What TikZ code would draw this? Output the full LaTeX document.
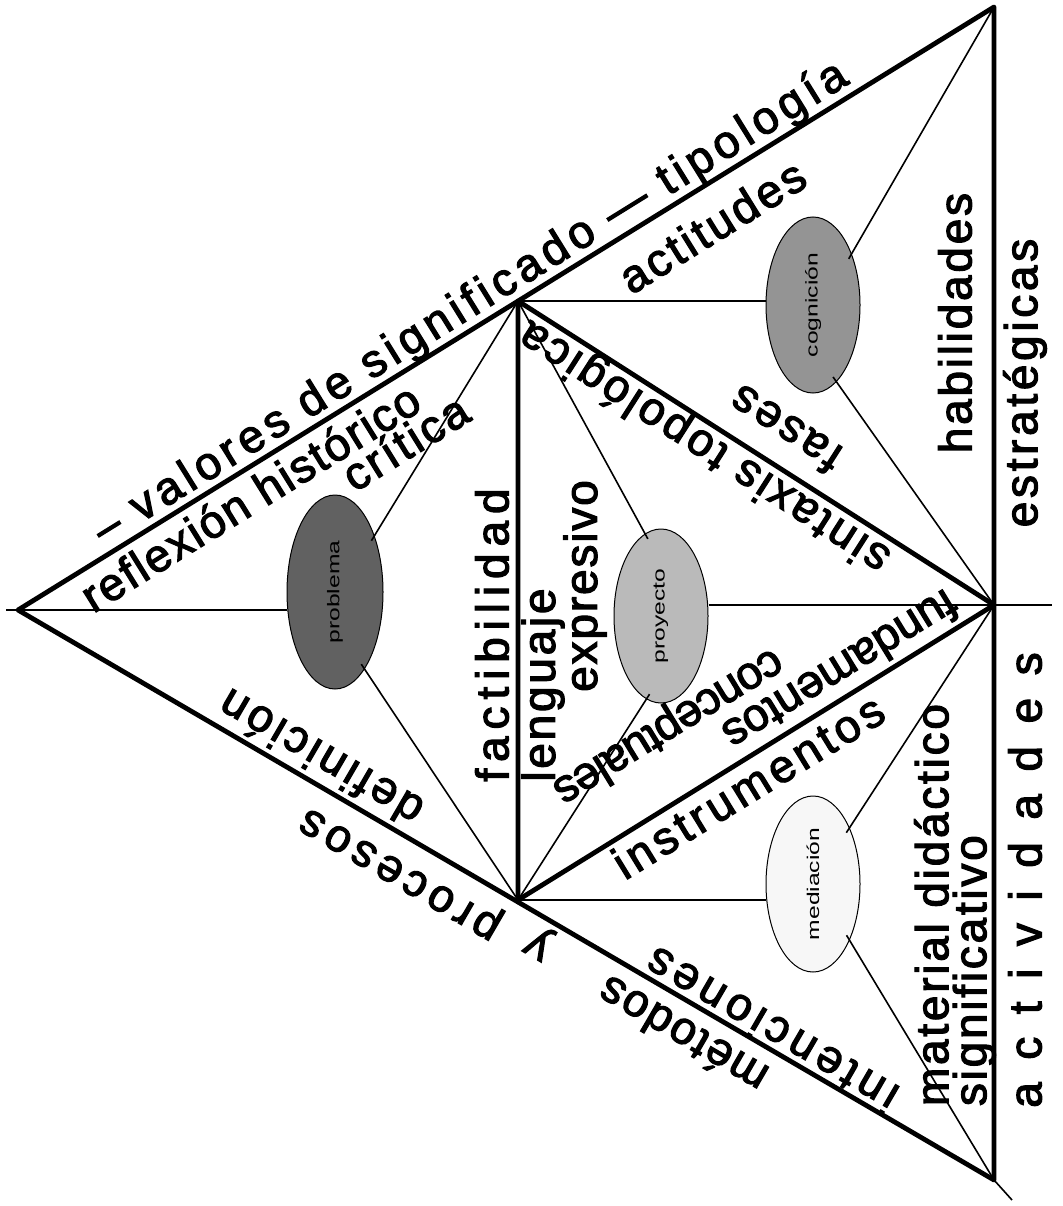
\documentclass[tikz,border=0pt]{standalone}
\usepackage{fontspec}
\usepackage{graphicx}
\usetikzlibrary{shapes.geometric}
\newfontfamily\lblfont[FakeBold=2.5]{Liberation Sans}
\newfontfamily\ovalfont[FakeStretch=1.45]{Liberation Sans}

\begin{document}
\begin{tikzpicture}[
    x=1pt, y=-1pt,
    edge/.style={line width=4.8pt, line cap=round, line join=round},
    ray/.style={line width=1.6pt},
    oval/.style={ellipse, draw, line width=1pt, inner sep=0pt, minimum width=94pt, minimum height=176pt, font=\ovalfont\fontsize{17}{17}\selectfont},
    lbl/.style={font=\lblfont\fontsize{46}{38}\selectfont\addfontfeature{LetterSpace=#1}, inner sep=0pt},
    lbl/.default=0
  ]
    \fill[white] (0,0) rectangle (1062,1206);
    \useasboundingbox (0,0) rectangle (1062,1206);

    % corners of the big triangle and of the inner one
    \coordinate (L) at (18,610);
    \coordinate (TR) at (994,7);
    \coordinate (BR) at (994,1180);
    \coordinate (T) at (518,301);
    \coordinate (B) at (518,900);
    \coordinate (R) at (994,605);
    \coordinate (axL) at (6,610);
    \coordinate (axR) at (1052,605);
    \coordinate (tail) at (1012,1200);

    % the four ovals
    \node[oval, fill=black!62, minimum width=96pt, minimum height=194pt] (prob) at (335,592) {\rotatebox{90}{problema}};
    \node[oval, fill=black!42] (cog) at (813,305) {\rotatebox{90}{cognición}};
    \node[oval, fill=black!27, minimum height=174pt] (proy) at (661,616) {\rotatebox{90}{proyecto}};
    \node[oval, fill=black!3] (med) at (813,884) {\rotatebox{90}{mediación}};

    % thin lines from the corners to the ovals
    \draw[ray] (axL) -- (L);
    \draw[ray] (L) -- (L -| prob.west);
    \draw[ray, shorten >=-6pt] (T) -- (prob.55);
    \draw[ray, shorten >=-6pt] (B) -- (prob.291);
    \draw[ray] (T) -- (T -| cog.west);
    \draw[ray, shorten >=-6pt] (TR) -- (cog.53);
    \draw[ray, shorten >=-6pt] (R) -- (cog.287);
    \draw[ray, shorten >=-6pt] (T) -- (proy.101);
    \draw[ray] (R) -- (R -| proy.east);
    \draw[ray, shorten >=-6pt] (B) -- (proy.260);
    \draw[ray] (B) -- (B -| med.west);
    \draw[ray, shorten >=-6pt] (R) -- (med.57);
    \draw[ray, shorten >=-6pt] (BR) -- (med.303);
    \draw[ray] (BR) -- (tail);
    \draw[ray] (R) -- (axR);

    % thick triangles
    \draw[edge] (L) -- (TR) -- (BR) -- cycle;
    \draw[edge] (T) -- (B) -- (R) -- cycle;

    % labels
    \node[lbl=11, rotate=31.8] (valores) at (471,304) {– valores de significado — tipología};
    \node[lbl=4, rotate=31.8] (reflexion) at (250,497) {reflexión histórico};
    \node[lbl=6, rotate=31.8] (critica) at (405,442) {crítica};
    \node[lbl=7, rotate=31.8] (actitudes) at (712,226) {actitudes};
    \node[lbl=6, rotate=90] (habilidades) at (955,323) {habilidades};
    \node[lbl=8, rotate=90] (estrategicas) at (1025,383) {estratégicas};
    \node[lbl=49, rotate=90] (actividades) at (1025,880) {actividades};
    \node[lbl=6, rotate=90, align=left] (material) at (955,905) {material didáctico\\significativo};
    \node[lbl=15, rotate=90] (factibilidad) at (492,635) {factibilidad};
    \node[lbl=6, rotate=90] (lenguaje) at (543,685) {lenguaje};
    \node[lbl=4, rotate=90] (expresivo) at (585,586) {expresivo};
    \node[lbl=7, rotate=147.4] (sintaxis) at (705,446) {sintaxis topológica};
    \node[lbl=7, rotate=147.4] (fases) at (785,430) {fases};
    \node[lbl=9, rotate=31.5] (instrumentos) at (748,786) {instrumentos};
    \node[lbl, rotate=211.5] (fundamentos) at (841,671) {fundamentos};
    \node[lbl=-2, rotate=211.5] (conceptuales) at (668,726) {conceptuales};
    \node[lbl=8, rotate=149.8] (definicion) at (320,759) {definición};
    \node[lbl=12, rotate=149.8] (procesos) at (402,871) {procesos};
    \node[lbl, rotate=149.8] (y) at (540,942) {y};
    \node[lbl=4, rotate=149.8] (metodos) at (682,1036) {métodos};
    \node[lbl=11, rotate=149.8] (intenciones) at (771,1031) {intenciones};
\end{tikzpicture}
\end{document}
